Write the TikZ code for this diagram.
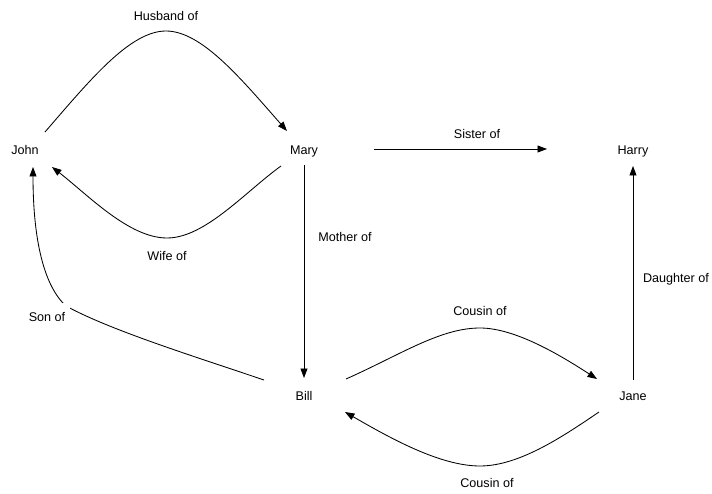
\documentclass[tikz,border=0pt]{standalone}
\usepackage{fontspec}
\setmainfont{Liberation Sans}
\usetikzlibrary{arrows.meta,calc}
\begin{document}
\begin{tikzpicture}[x=1pt,y=-1pt,
  person/.style={inner sep=0pt, text height=9pt, text depth=0pt,
    font=\fontsize{12.6}{15}\selectfont},
  rel/.style={person},
  link/.style={line width=0.85pt, -{Triangle[length=9.5pt,width=7pt]}},
]
\useasboundingbox (0,0) rectangle (712,494);

% people
\node[person] (john)  at (25,150)  {John};
\node[person] (mary)  at (304,150) {Mary};
\node[person] (harry) at (633,150) {Harry};
\node[person] (bill)  at (304,396) {Bill};
\node[person] (jane)  at (633,396) {Jane};

% turning points of the curved links
\coordinate (hpeak) at (166,31);
\coordinate (wlow)  at (167,238);
\coordinate (sbend) at (66,306);
\coordinate (cpeak) at (480,328);
\coordinate (clow)  at (480,466);

% John -> Mary
\draw[link] ($(john)+(20,-18)$) .. controls +(45,-52) and +(-36,0) .. (hpeak)
  .. controls +(36,0) and +(-45,-51) .. ($(mary)+(-17,-19)$);
% Mary -> John
\draw[link] ($(mary)+(-23,16)$) .. controls +(-36,26) and +(38,0) .. (wlow)
  .. controls +(-38,0) and +(36,28) .. ($(john)+(27,17)$);
% Mary -> Harry
\draw[link] ($(mary)+(70,-1)$) -- ($(harry)+(-86,-1)$);
% Mary -> Bill
\draw[link] ($(mary)+(0,15)$) -- ($(bill)+(0,-18)$);
% Jane -> Harry
\draw[link] ($(jane)+(0,-16)$) -- ($(harry)+(0,16)$);
% Bill -> John
\draw[link] ($(bill)+(-40,-16)$) .. controls +(-74,-25) and +(44,24) .. (sbend)
  .. controls +(-22,-20) and +(0,73) .. ($(john)+(8,17)$);
% Bill -> Jane
\draw[link] ($(bill)+(42,-17)$) .. controls +(54,-24) and +(-40,0) .. (cpeak)
  .. controls +(35,0) and +(-37,-24) .. ($(jane)+(-36,-17)$);
% Jane -> Bill
\draw[link] ($(jane)+(-34,16)$) .. controls +(-34,23) and +(40,0) .. (clow)
  .. controls +(-40,0) and +(45,26) .. ($(bill)+(41,16)$);

% relation labels
\node[rel] (lhus)  at (166,16)  {Husband of};
\node[rel] (lwife) at (167,256) {Wife of};
\node[rel] (lsis)  at (477,134) {Sister of};
\node[rel] (lmoth) at (345,237) {Mother of};
\node[rel, fill=white, inner xsep=5pt, inner ysep=9pt] (lson) at (47,317) {Son of};
\node[rel] (lcou1) at (480,311) {Cousin of};
\node[rel] (ldau)  at (676,278) {Daughter of};
\node[rel] (lcou2) at (487,483) {Cousin of};
\end{tikzpicture}
\end{document}
